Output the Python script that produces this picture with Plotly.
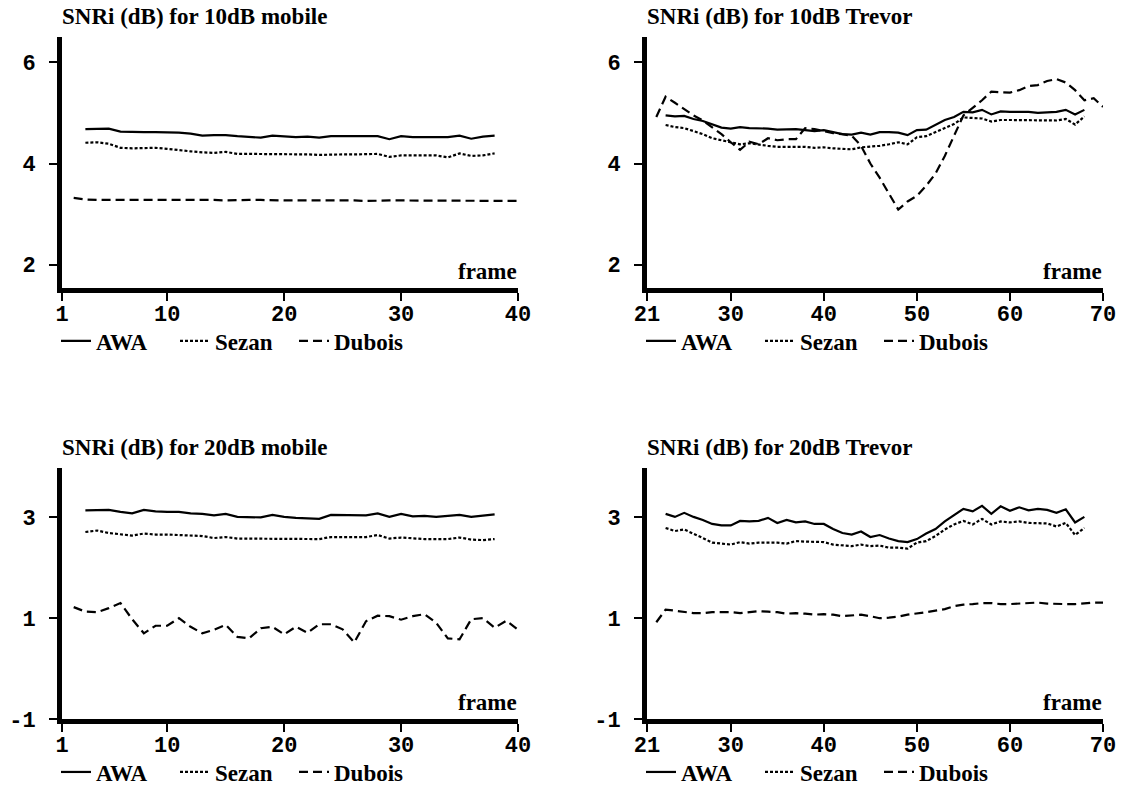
import plotly.graph_objects as go

# ---------------- data ----------------
mob_frames_main = list(range(3, 39))      # AWA / Sezan frames (mobile)
mob_frames_dub = list(range(2, 41))       # Dubois frames (mobile)
trev_frames_main = list(range(23, 69))    # AWA / Sezan frames (Trevor)
trev_frames_dub = list(range(22, 71))     # Dubois frames (Trevor)

mob10_awa = [4.68, 4.68, 4.69, 4.63, 4.62, 4.62, 4.62, 4.62, 4.61, 4.59, 4.55, 4.56, 4.56, 4.54, 4.52, 4.51, 4.55, 4.54,
             4.52, 4.53, 4.51, 4.54, 4.54, 4.53, 4.53, 4.54, 4.48, 4.54, 4.52, 4.52, 4.52, 4.52, 4.55, 4.49, 4.53, 4.55]
mob10_sezan = [4.41, 4.42, 4.39, 4.31, 4.30, 4.30, 4.31, 4.29, 4.26, 4.24, 4.22, 4.21, 4.23, 4.19, 4.19, 4.19, 4.19, 4.19,
               4.18, 4.18, 4.17, 4.18, 4.18, 4.18, 4.18, 4.19, 4.13, 4.16, 4.16, 4.16, 4.16, 4.12, 4.20, 4.15, 4.16, 4.20]
mob10_dubois = [3.32, 3.29, 3.28, 3.28, 3.28, 3.28, 3.28, 3.28, 3.29, 3.29, 3.28, 3.28, 3.28, 3.27, 3.28, 3.28, 3.28,
                3.27, 3.27, 3.27, 3.27, 3.28, 3.28, 3.27, 3.27, 3.26, 3.27, 3.27, 3.27, 3.27, 3.26, 3.26, 3.27, 3.27,
                3.27, 3.26, 3.26, 3.26, 3.26]

trev10_awa = [4.95, 4.93, 4.94, 4.88, 4.84, 4.78, 4.71, 4.69, 4.72, 4.70, 4.70, 4.69, 4.67, 4.67, 4.68, 4.66, 4.64, 4.66,
              4.62, 4.58, 4.57, 4.61, 4.57, 4.62, 4.62, 4.61, 4.56, 4.66, 4.67, 4.76, 4.86, 4.92, 5.02, 5.01, 5.06, 4.97,
              5.03, 5.02, 5.02, 5.02, 5.00, 5.01, 5.02, 5.06, 4.97, 5.06]
trev10_sezan = [4.76, 4.72, 4.70, 4.64, 4.58, 4.50, 4.46, 4.42, 4.38, 4.40, 4.37, 4.35, 4.33, 4.33, 4.32, 4.33, 4.31,
                4.32, 4.30, 4.29, 4.28, 4.32, 4.33, 4.35, 4.38, 4.42, 4.38, 4.52, 4.54, 4.62, 4.70, 4.78, 4.91, 4.90,
                4.89, 4.83, 4.86, 4.86, 4.86, 4.86, 4.85, 4.85, 4.85, 4.88, 4.77, 4.93]
trev10_dubois = [4.92, 5.32, 5.20, 5.08, 4.95, 4.85, 4.72, 4.58, 4.42, 4.27, 4.43, 4.38, 4.50, 4.46, 4.48, 4.48, 4.70,
                 4.68, 4.64, 4.60, 4.58, 4.55, 4.35, 4.00, 3.72, 3.40, 3.09, 3.25, 3.36, 3.56, 3.80, 4.15, 4.55, 4.95,
                 5.10, 5.25, 5.42, 5.41, 5.40, 5.45, 5.53, 5.55, 5.63, 5.67, 5.60, 5.45, 5.25, 5.29, 5.12]

mob20_awa = [3.14, 3.14, 3.15, 3.11, 3.08, 3.15, 3.12, 3.11, 3.11, 3.08, 3.07, 3.04, 3.07, 3.01, 3.01, 3.00, 3.05, 3.01,
             2.99, 2.98, 2.97, 3.05, 3.05, 3.05, 3.04, 3.08, 3.01, 3.07, 3.02, 3.03, 3.01, 3.03, 3.05, 3.01, 3.03, 3.06]
mob20_sezan = [2.71, 2.74, 2.69, 2.66, 2.64, 2.68, 2.66, 2.66, 2.65, 2.64, 2.63, 2.59, 2.61, 2.58, 2.58, 2.58, 2.58, 2.58,
               2.57, 2.57, 2.57, 2.61, 2.61, 2.61, 2.61, 2.65, 2.58, 2.60, 2.58, 2.57, 2.57, 2.57, 2.60, 2.56, 2.55, 2.57]
mob20_dubois = [1.22, 1.13, 1.12, 1.20, 1.30, 0.98, 0.70, 0.85, 0.85, 1.00, 0.83, 0.70, 0.77, 0.87, 0.63, 0.60, 0.80,
                0.83, 0.68, 0.83, 0.71, 0.88, 0.88, 0.78, 0.52, 0.94, 1.05, 1.04, 0.97, 1.04, 1.08, 0.91, 0.60, 0.58,
                0.98, 1.00, 0.81, 0.95, 0.77]

trev20_awa = [3.07, 3.01, 3.09, 3.01, 2.95, 2.87, 2.84, 2.84, 2.93, 2.92, 2.93, 2.99, 2.89, 2.95, 2.90, 2.92, 2.87, 2.87,
              2.77, 2.69, 2.66, 2.72, 2.61, 2.65, 2.58, 2.53, 2.51, 2.57, 2.68, 2.77, 2.92, 3.05, 3.17, 3.12, 3.23, 3.07,
              3.22, 3.13, 3.20, 3.14, 3.17, 3.15, 3.09, 3.16, 2.90, 3.01]
trev20_sezan = [2.79, 2.73, 2.76, 2.68, 2.59, 2.50, 2.48, 2.46, 2.51, 2.48, 2.50, 2.50, 2.50, 2.48, 2.53, 2.52, 2.52,
                2.51, 2.46, 2.44, 2.43, 2.46, 2.43, 2.44, 2.40, 2.40, 2.38, 2.50, 2.53, 2.63, 2.76, 2.86, 2.93, 2.86,
                2.97, 2.86, 2.92, 2.90, 2.92, 2.89, 2.89, 2.88, 2.82, 2.89, 2.65, 2.79]
trev20_dubois = [0.92, 1.17, 1.15, 1.12, 1.10, 1.10, 1.12, 1.12, 1.12, 1.10, 1.12, 1.14, 1.13, 1.12, 1.09, 1.10, 1.09,
                 1.07, 1.08, 1.07, 1.04, 1.05, 1.07, 1.04, 1.00, 1.01, 1.03, 1.07, 1.09, 1.12, 1.15, 1.18, 1.24, 1.27,
                 1.28, 1.30, 1.30, 1.28, 1.28, 1.29, 1.30, 1.31, 1.29, 1.28, 1.28, 1.28, 1.30, 1.31, 1.31]

titles = ["SNRi (dB) for 10dB mobile", "SNRi (dB) for 10dB Trevor",
          "SNRi (dB) for 20dB mobile", "SNRi (dB) for 20dB Trevor"]
x_ticks_mobile = [1, 10, 20, 30, 40]
x_ticks_trevor = [21, 30, 40, 50, 60, 70]
y_ticks_10 = [2, 4, 6]
y_ticks_20 = [-1, 1, 3]

# ---------------- styling ----------------
W, H = 1121, 788
SERIF = "Liberation Serif"
MONO = "Liberation Mono"
styles = {
    "AWA": dict(color="black", width=2.2, dash="solid"),
    "Sezan": dict(color="black", width=2.2, dash="3px,2px"),
    "Dubois": dict(color="black", width=2.2, dash="9px,5px"),
}

# plot-area pixel boxes (left, right), (top, bottom)
panels = [
    dict(main_x=mob_frames_main, dub_x=mob_frames_dub, awa=mob10_awa, sezan=mob10_sezan, dub=mob10_dubois,
         xr=[1, 40], xt=x_ticks_mobile, yr=[1.54, 6.5], yt=y_ticks_10, px=(62, 518), py=(37, 288)),
    dict(main_x=trev_frames_main, dub_x=trev_frames_dub, awa=trev10_awa, sezan=trev10_sezan, dub=trev10_dubois,
         xr=[21, 70], xt=x_ticks_trevor, yr=[1.54, 6.5], yt=y_ticks_10, px=(647, 1103), py=(37, 288)),
    dict(main_x=mob_frames_main, dub_x=mob_frames_dub, awa=mob20_awa, sezan=mob20_sezan, dub=mob20_dubois,
         xr=[1, 40], xt=x_ticks_mobile, yr=[-1, 3.98], yt=y_ticks_20, px=(62, 518), py=(468, 719)),
    dict(main_x=trev_frames_main, dub_x=trev_frames_dub, awa=trev20_awa, sezan=trev20_sezan, dub=trev20_dubois,
         xr=[21, 70], xt=x_ticks_trevor, yr=[-1, 3.98], yt=y_ticks_20, px=(647, 1103), py=(468, 719)),
]

fig = go.Figure()
layout = dict(width=W, height=H, margin=dict(l=0, r=0, t=0, b=0, autoexpand=False), autosize=False,
              paper_bgcolor="white", plot_bgcolor="white", showlegend=True)
annotations = []
axis_common = dict(showgrid=False, zeroline=False, showline=True, linewidth=5, linecolor="black",
                   ticks="outside", ticklen=8, tickwidth=2, tickcolor="black", automargin=False,
                   tickfont=dict(family=MONO, size=22, color="black", weight="bold"))

for i, p in enumerate(panels):
    n = i + 1
    sfx = "" if n == 1 else str(n)
    xa, ya = "x" + sfx, "y" + sfx
    leg = "legend" + sfx
    for name, xs, ys in [("AWA", p["main_x"], p["awa"]), ("Sezan", p["main_x"], p["sezan"]),
                         ("Dubois", p["dub_x"], p["dub"])]:
        fig.add_trace(go.Scatter(x=xs, y=ys, mode="lines", name=name, line=styles[name],
                                 xaxis=xa, yaxis=ya, legend=leg, hoverinfo="x+y+name"))
    x0, x1 = p["px"][0] / W, p["px"][1] / W
    y0, y1 = 1 - p["py"][1] / H, 1 - p["py"][0] / H
    layout["xaxis" + sfx] = dict(domain=[x0, x1], range=p["xr"], anchor=ya, tickvals=p["xt"],
                                 ticktext=[str(v) for v in p["xt"]], ticklabelstandoff=-6, **axis_common)
    layout["yaxis" + sfx] = dict(domain=[y0, y1], range=p["yr"], anchor=xa, tickvals=p["yt"],
                                 ticktext=[str(v) for v in p["yt"]], ticklabelstandoff=9, **axis_common)
    layout[leg] = dict(orientation="h", x=(p["px"][0] - 6) / W, xanchor="left",
                       y=1 - (p["py"][1] + 53) / H, yanchor="middle",
                       font=dict(family=SERIF, size=23, color="black", weight="bold"),
                       entrywidth=74, entrywidthmode="pixels", bgcolor="rgba(0,0,0,0)",
                       borderwidth=0, itemwidth=30, tracegroupgap=0)
    # panel title
    annotations.append(dict(text=titles[i], xref="paper", yref="paper", x=(p["px"][0] - 2) / W,
                            y=1 - (p["py"][0] - 20.5) / H, xanchor="left", yanchor="middle", showarrow=False,
                            font=dict(family=SERIF, size=23, color="black", weight="bold")))
    # axis label "frame"
    annotations.append(dict(text="frame", xref="paper", yref="paper", x=(p["px"][1] + 1) / W,
                            y=1 - (p["py"][1] - 17) / H, xanchor="right", yanchor="middle", showarrow=False,
                            font=dict(family=SERIF, size=23, color="black", weight="bold")))

layout["annotations"] = annotations
fig.update_layout(**layout)
fig.write_html("out.html")
